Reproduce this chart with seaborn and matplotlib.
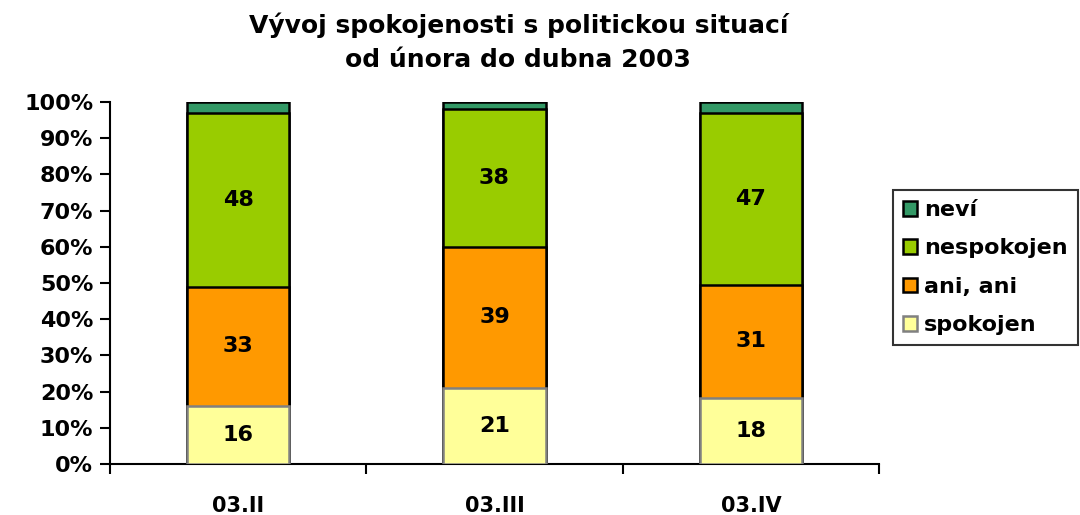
import matplotlib
matplotlib.use("Agg")
import matplotlib.pyplot as plt
import seaborn as sns
import numpy as np
import pandas as pd
from matplotlib.patches import Patch

categories = ["03.II", "03.III", "03.IV"]
series_names = ["spokojen", "ani, ani", "nespokojen", "neví"]
spokojen = [16, 21, 18.2]
ani_ani = [33, 39, 31.3]
nespokojen = [48, 38, 47.4]
nevi = [3, 2, 3.1]
colors = ["#FFFF99", "#FF9900", "#99CC00", "#339966"]
edges = ["#808080", "black", "black", "black"]
ytick_labels = ["0%", "10%", "20%", "30%", "40%", "50%", "60%", "70%", "80%", "90%", "100%"]

sns.set_style("white")
plt.rcParams["font.family"] = ["DejaVu Sans"]
plt.rcParams["font.weight"] = "bold"
plt.rcParams["text.color"] = "black"
plt.rcParams["xtick.color"] = "black"
plt.rcParams["ytick.color"] = "black"

fig = plt.figure(figsize=(10.8, 5.15), dpi=100)
ax = fig.add_axes([110/1080, 51/515, 769/1080, 362/515])

vals = np.array([spokojen, ani_ani, nespokojen, nevi])
cum = np.cumsum(vals, axis=0)

# draw cumulative bars from the top series down
for k in range(3, -1, -1):
    df = pd.DataFrame({"cat": categories, "val": cum[k]})
    sns.barplot(data=df, x="cat", y="val", color=colors[k], saturation=1,
                width=0.4, edgecolor=edges[k], linewidth=1.8, ax=ax, zorder=2 + (3 - k))

for k in range(3):
    for i in range(len(categories)):
        ax.text(i, cum[k][i] - vals[k][i] / 2, f"{round(vals[k][i]):d}",
                ha="center", va="center", fontsize=16, fontweight="bold", color="black", zorder=10)

ax.set_xlim(-0.5, 2.5)
ax.set_ylim(0, 100)
ax.set_yticks(np.arange(0, 101, 10))
ax.set_yticklabels(ytick_labels, fontsize=16, fontweight="bold")
ax.set_xticks([-0.5, 0.5, 1.5, 2.5], minor=False)
ax.set_xticklabels([])
ax.set_xticks([0, 1, 2], minor=True)
ax.set_xticklabels(categories, minor=True, fontsize=15, fontweight="bold")
ax.tick_params(axis="x", which="minor", length=0, pad=23)
ax.tick_params(axis="x", which="major", direction="out", length=7, width=1.5, color="black", bottom=True)
ax.tick_params(axis="y", direction="out", length=7, width=1.5, color="black", left=True, pad=5)
ax.set_xlabel("")
ax.set_ylabel("")
for s in ["top", "right"]:
    ax.spines[s].set_visible(False)
for s in ["left", "bottom"]:
    ax.spines[s].set_color("black")
    ax.spines[s].set_linewidth(1.5)

fig.text(0.48, 0.975, "Vývoj spokojenosti s politickou situací\nod února do dubna 2003",
         ha="center", va="top", fontsize=18, fontweight="bold", linespacing=1.5, color="black")

handles = [Patch(facecolor=colors[k], edgecolor=edges[k], linewidth=1.8, label=series_names[k]) for k in range(3, -1, -1)]
leg = ax.legend(handles=handles, loc="upper left", bbox_to_anchor=(1.018, 0.757),
                frameon=True, fancybox=False, edgecolor="black", fontsize=16,
                handlelength=0.65, handleheight=0.65, handletextpad=0.3,
                labelspacing=0.83, borderpad=0.45, borderaxespad=0)
leg.get_frame().set_linewidth(1.5)
for t in leg.get_texts():
    t.set_fontweight("bold")
    t.set_color("black")

fig.savefig("out.png", dpi=100)
